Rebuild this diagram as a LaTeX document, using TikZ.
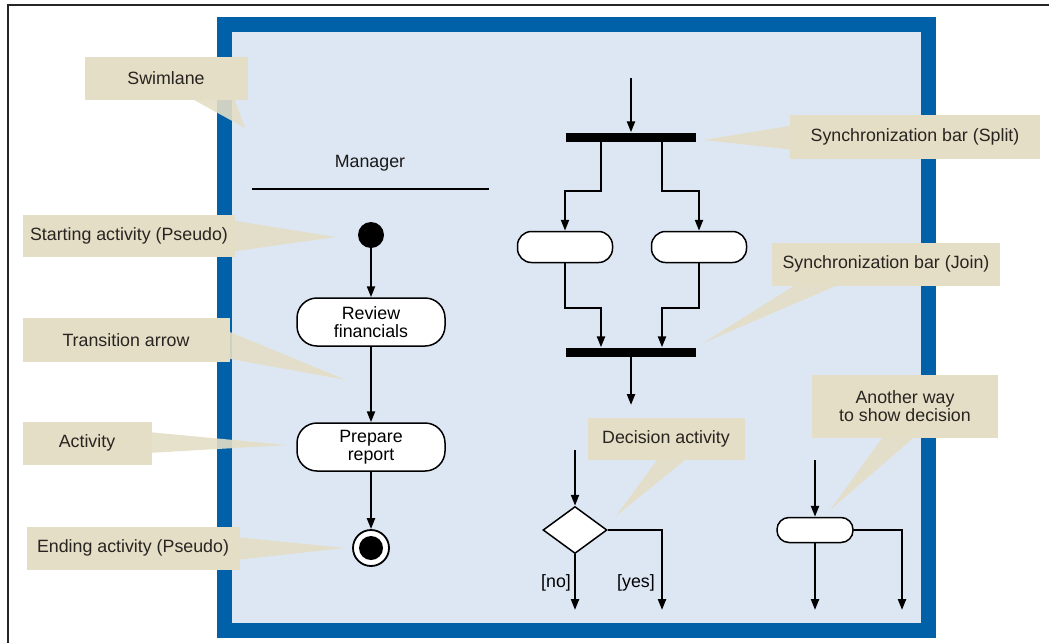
\documentclass[tikz,border=0pt]{standalone}
\usepackage{fontspec}
\setmainfont{Liberation Sans}
\usepackage{xcolor}
\usepackage{tikz}
\usetikzlibrary{arrows.meta,positioning,calc,shapes.geometric}
\definecolor{lanebl}{RGB}{0,96,168}
\definecolor{lanefill}{RGB}{221,231,243}
\definecolor{notebg}{RGB}{228,222,198}
\definecolor{notetx}{RGB}{40,36,32}

\begin{document}
\begin{tikzpicture}[x=1pt,y=-1pt,font=\fontsize{17.8pt}{18pt}\selectfont,
  act/.style={draw,line width=1.5pt,fill=white,rounded corners=20pt,minimum width=148pt,minimum height=48pt,align=center,inner sep=0pt},
  smallact/.style={act,rounded corners=14pt,minimum width=95pt,minimum height=31pt},
  syncbar/.style={fill=black,minimum width=130pt,minimum height=9pt,inner sep=0pt},
  flow/.style={-{Triangle[length=11pt,width=8pt]},line width=2.2pt},
  note/.style={fill=notebg,text=notetx,inner sep=0pt,align=center},
  wedge/.style={fill=notebg,opacity=0.9}]
                \useasboundingbox (0,0) rectangle (1049,643);
                \fill[white] (0,0) rectangle (1049,643);
                \draw[line width=2.5pt,black!85] (8,643) -- (8,5) -- (1049,5);
                \fill[lanebl] (217,17) rectangle (936,638);
                \fill[lanefill] (232,32) rectangle (921,623);
                \node[text=black!90] (mgr) at (370,163) {Manager};
                \draw[line width=2.2pt] (252,189) -- (489,189);
                \node[circle,fill=black,minimum size=26pt,inner sep=0pt] (start) at (371,235) {};
                \node[act] (review) at (371,322) {Review\\financials};
                \node[act] (prepare) at (371,447) {Prepare\\report};
                \node[circle,draw,line width=1.8pt,fill=white,minimum size=36pt,inner sep=0pt] (finish) at (371,548) {};
                \node[circle,fill=black,minimum size=24pt,inner sep=0pt] (finishdot) at (finish) {};
                \draw[flow] (start) -- (review);
                \draw[flow] (review) -- (prepare);
                \draw[flow] (prepare) -- (finish);
                \coordinate (splitin) at (631,78);
                \node[syncbar] (split) at (631,137) {};
                \node[smallact] (forkl) at (565,247) {};
                \node[smallact] (forkr) at (699,247) {};
                \node[syncbar] (join) at (631,352) {};
                \coordinate (joinout) at (631,405);
                \draw[flow] (splitin) -- (split);
                \draw[flow] ([xshift=-30pt]split.south) -- ++(0,49) -| (forkl);
                \draw[flow] ([xshift=31pt]split.south) -- ++(0,49) -| (forkr);
                \draw[flow] (forkl.south) -- ++(0,45) -| ([xshift=-30pt]join.north);
                \draw[flow] (forkr.south) -- ++(0,45) -| ([xshift=31pt]join.north);
                \draw[flow] (join) -- (joinout);
                \coordinate (decin) at (575,450);
                \node[diamond,draw,line width=1.5pt,fill=white,minimum width=64pt,minimum height=47pt,inner sep=0pt] (dec) at (575,530) {};
                \coordinate (decno) at (575,610);
                \coordinate (decyes) at (662,610);
                \draw[flow] (decin) -- (dec);
                \draw[flow] (dec) -- (decno);
                \draw[flow] (dec.east) -| (decyes);
                \node (lblno) at (556,583) {[no]};
                \node (lblyes) at (636,583) {[yes]};
                \coordinate (altin) at (815,460);
                \node[smallact,rounded corners=12pt,minimum width=76pt,minimum height=25pt] (alt) at (815,530) {};
                \coordinate (altdown) at (815,610);
                \coordinate (altside) at (902,610);
                \draw[flow] (altin) -- (alt);
                \draw[flow] (alt) -- (altdown);
                \draw[flow] (alt.east) -| (altside);
                \fill[wedge] (185,95) -- (233,95) -- (245,128) -- cycle;
                \fill[wedge] (230,220) -- (230,252) -- (336,237) -- cycle;
                \fill[wedge] (225,330) -- (225,358) -- (346,380) -- cycle;
                \fill[wedge] (148,432) -- (148,453) -- (287,445) -- cycle;
                \fill[wedge] (236,537) -- (236,560) -- (345,548) -- cycle;
                \fill[wedge] (795,125) -- (795,150) -- (703,140) -- cycle;
                \fill[wedge] (800,282) -- (845,282) -- (703,343) -- cycle;
                \fill[wedge] (660,456) -- (690,456) -- (616,516) -- cycle;
                \fill[wedge] (885,434) -- (918,434) -- (830,510) -- cycle;
                \foreach \nm/\cx/\cy/\w/\h/\txt in {
                  swl/166/78/163/43/{Swimlane},
                  nstart/129/236/212/42/{Starting activity (Pseudo)},
                  ntrans/126/340/207/44/{Transition arrow},
                  nact/87/443/129/43/{Activity},
                  nend/133/548/213/43/{Ending activity (Pseudo)},
                  nsplit/915/137/250/44/{Synchronization bar (Split)},
                  njoin/886/264/228/43/{Synchronization bar (Join)},
                  ndec/666/439/157/42/{Decision activity},
                  nalt/905/406/186/63/{Another way\\to show decision}}
                \node[note,minimum width=\w pt,minimum height=\h pt] (\nm) at (\cx,\cy) {\txt};
            \end{tikzpicture}
\end{document}
